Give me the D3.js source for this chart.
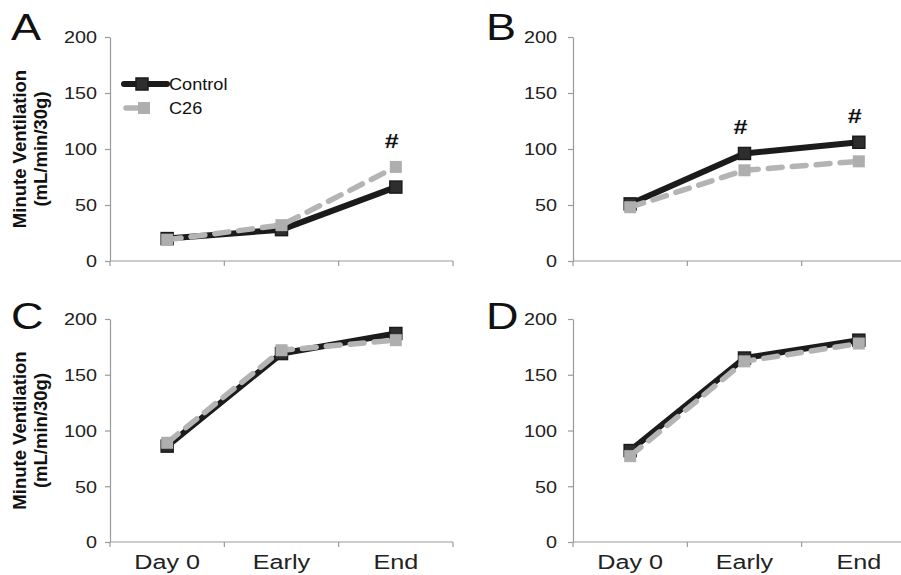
<!DOCTYPE html>
<html>
<head>
<meta charset="utf-8">
<script src="https://cdn.jsdelivr.net/npm/d3@7"></script>
<style>
  body { margin: 0; background: #fff; }
  svg { display: block; font-family: "Liberation Sans", Arial, sans-serif; }
  .axis path, .axis line { stroke: #9a9a9a; stroke-width: 1.2; }
  .axis text { fill: #222; }
</style>
</head>
<body>
<svg width="901" height="575"></svg>
<script>
// Minute ventilation, four panels
const categories = ["Day 0", "Early", "End"];
const yTicks = [0, 50, 100, 150, 200];
const panelLetters = ["A", "B", "C", "D"];

const controlA = [20, 28, 66];
const c26A = [19, 32, 84];
const controlB = [51, 96, 106];
const c26B = [48, 81, 89];
const controlC = [86, 169, 187];
const c26C = [89, 172, 181];
const controlD = [82, 165, 181];
const c26D = [77, 162, 178];

// index of category flagged with # per panel
const sigA = [2];
const sigB = [1, 2];
const sigC = [];
const sigD = [];

const panels = [
  { letter: panelLetters[0], control: controlA, c26: c26A, sig: sigA, left: 110, top: 37, bottom: 261, col: 0, row: 0 },
  { letter: panelLetters[1], control: controlB, c26: c26B, sig: sigB, left: 573, top: 37, bottom: 261, col: 1, row: 0 },
  { letter: panelLetters[2], control: controlC, c26: c26C, sig: sigC, left: 110, top: 319, bottom: 542, col: 0, row: 1 },
  { letter: panelLetters[3], control: controlD, c26: c26D, sig: sigD, left: 573, top: 319, bottom: 542, col: 1, row: 1 },
];

const svg = d3.select("svg");
const plotW = 343;
const ctrlColor = "#1b1b1b";
const c26Color = "#b4b4b4";
const mk = 12;
const stretch = 1.2; // source figure is a bit wide

// put a text at (x,y) with horizontal stretch
function wideText(sel, x, y, sx) {
  return sel.attr("x", 0).attr("y", 0)
    .attr("transform", `translate(${x},${y}) scale(${sx},1)`);
}

panels.forEach((p) => {
  const g = svg.append("g");
  const x = d3.scaleBand().domain(categories).range([p.left, p.left + plotW]);
  const y = d3.scaleLinear().domain([0, 200]).range([p.bottom, p.top]);
  const labelGap = p.col === 0 ? 13 : 16;

  // y axis
  g.append("g")
    .attr("class", "axis")
    .attr("transform", `translate(${p.left},0)`)
    .call(d3.axisLeft(y).tickValues(yTicks).tickSize(5).tickSizeOuter(0))
    .call((a) => a.selectAll("text")
      .style("font-size", "16.5px")
      .attr("dy", "0.35em")
      .attr("x", 0)
      .attr("transform", `translate(${-labelGap},0) scale(${stretch},1)`));

  // x axis, ticks on band edges
  const xa = g.append("g").attr("class", "axis");
  xa.append("line")
    .attr("x1", p.left).attr("x2", p.left + plotW)
    .attr("y1", p.bottom).attr("y2", p.bottom);
  const edges = categories.map((c) => x(c)).concat([p.left + plotW]);
  xa.selectAll(".edge").data(edges).join("line")
    .attr("class", "edge")
    .attr("x1", (d) => d).attr("x2", (d) => d)
    .attr("y1", p.bottom).attr("y2", p.bottom + 5);
  if (p.row === 1) {
    xa.selectAll(".cat").data(categories).join("text")
      .attr("class", "cat")
      .attr("text-anchor", "middle")
      .style("font-size", "21px")
      .attr("transform", (d) => `translate(${x(d) + x.bandwidth() / 2},${p.bottom + 27}) scale(${stretch},1)`)
      .text((d) => d);
  }

  const cx = (i) => x(categories[i]) + x.bandwidth() / 2;
  const line = d3.line().x((d, i) => cx(i)).y((d) => y(d));

  // control
  g.append("path").datum(p.control)
    .attr("d", line).attr("fill", "none")
    .attr("stroke", ctrlColor).attr("stroke-width", 6).attr("stroke-linejoin", "round");
  g.selectAll(".mc").data(p.control).join("rect")
    .attr("class", "mc")
    .attr("x", (d, i) => cx(i) - mk / 2).attr("y", (d) => y(d) - mk / 2)
    .attr("width", mk).attr("height", mk)
    .attr("fill", "#2e2e2e").attr("stroke", ctrlColor).attr("stroke-width", 1.5);

  // C26
  g.append("path").datum(p.c26)
    .attr("d", line).attr("fill", "none")
    .attr("stroke", c26Color).attr("stroke-width", 5.5)
    .attr("stroke-dasharray", "14,10").attr("stroke-linecap", "round");
  g.selectAll(".mg").data(p.c26).join("rect")
    .attr("class", "mg")
    .attr("x", (d, i) => cx(i) - mk / 2).attr("y", (d) => y(d) - mk / 2)
    .attr("width", mk).attr("height", mk)
    .attr("fill", "#aeaeae");

  // significance marks
  g.selectAll(".sig").data(p.sig).join("text")
    .attr("class", "sig")
    .attr("text-anchor", "middle")
    .attr("transform", (i) => `translate(${cx(i) - 4},${y(Math.max(p.control[i], p.c26[i])) - 19}) scale(${stretch},1)`)
    .style("font-size", "21px").style("font-weight", "bold").attr("fill", "#111")
    .text("#");

  // panel letter
  g.append("text")
    .attr("transform", `translate(${p.col === 0 ? 11 : 486},${p.row === 0 ? 40 : 329}) scale(${stretch},1)`)
    .style("font-size", "37.5px").attr("fill", "#111")
    .text(p.letter);

  // y title
  if (p.col === 0) {
    const mid = (p.top + p.bottom) / 2;
    const t = g.append("text")
      .attr("transform", `translate(26,${mid}) rotate(-90)`)
      .attr("text-anchor", "middle")
      .style("font-size", "18.5px").style("font-weight", "bold").attr("fill", "#111");
    t.append("tspan").attr("x", 0).attr("dy", 0).text("Minute Ventilation");
    t.append("tspan").attr("x", 0).attr("dy", 21).text("(mL/min/30g)");
  }
});

// legend in panel A
const lg = svg.append("g");
lg.append("line").attr("x1", 124).attr("x2", 167).attr("y1", 84).attr("y2", 84)
  .attr("stroke", ctrlColor).attr("stroke-width", 6).attr("stroke-linecap", "round");
lg.append("rect").attr("x", 142 - mk / 2).attr("y", 84 - mk / 2).attr("width", mk).attr("height", mk)
  .attr("fill", "#2e2e2e").attr("stroke", ctrlColor).attr("stroke-width", 1.5);
wideText(lg.append("text"), 169, 90, 1.1).style("font-size", "16.5px").attr("fill", "#111").text("Control");
lg.append("line").attr("x1", 126).attr("x2", 140).attr("y1", 108).attr("y2", 108)
  .attr("stroke", c26Color).attr("stroke-width", 5.5).attr("stroke-linecap", "round");
lg.append("rect").attr("x", 144 - mk / 2).attr("y", 108 - mk / 2).attr("width", mk).attr("height", mk)
  .attr("fill", "#aeaeae");
wideText(lg.append("text"), 169, 114, 1.1).style("font-size", "16.5px").attr("fill", "#111").text("C26");
</script>
</body>
</html>
